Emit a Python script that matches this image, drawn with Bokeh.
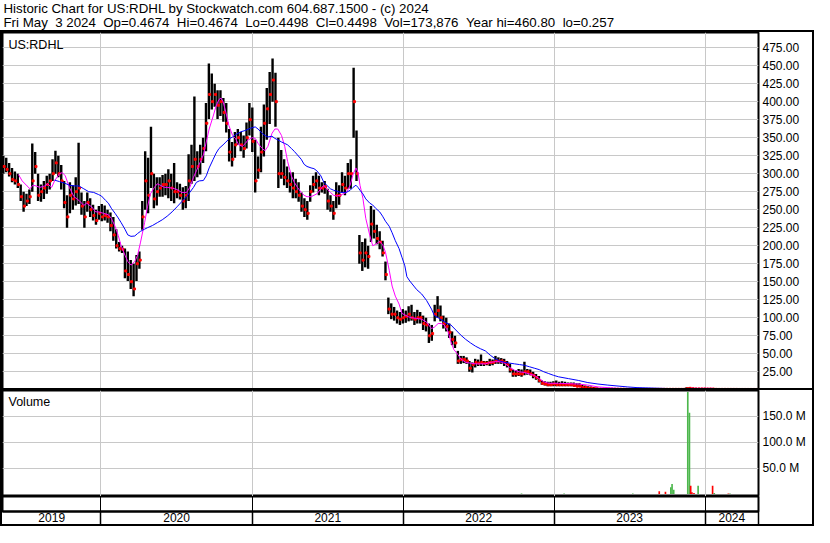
import numpy as np
import pandas as pd
from bokeh.plotting import figure
from bokeh.layouts import column
from bokeh.models import (Range1d, FixedTicker, PrintfTickFormatter, Label,
                          DatetimeTickFormatter)
from bokeh.embed import file_html
from bokeh.resources import INLINE

# ---------------- data ----------------
START = "2019-05-10"          # first weekly bar
VIEW_START = "2019-05-08"
VIEW_END = "2024-05-09"
YEAR_BOUNDS = ["2020-01-01", "2021-01-01", "2022-01-01", "2023-01-01", "2024-01-01"]

TITLE1 = "Historic Chart for US:RDHL by Stockwatch.com 604.687.1500 - (c) 2024"
TITLE2 = ("Fri May \u00a03 2024 \u00a0Op=0.4674 \u00a0Hi=0.4674 \u00a0Lo=0.4498 \u00a0Cl=0.4498"
          " \u00a0Vol=173,876 \u00a0Year hi=460.80 \u00a0lo=0.257")
SYMBOL = "US:RDHL"

# weekly high / low / close
hi = [325,322,315,308,303,300,285,275,272,278,
      342,330,300,285,290,297,300,320,332,325,
      312,290,270,288,284,295,343,274,262,274,
      266,257,250,255,258,256,250,246,240,223,
      205,200,196,192,180,175,187,192,262,331,
      322,365,300,295,295,298,300,306,300,315,
      288,286,281,283,327,340,407,331,340,350,
      398,453,439,425,416,416,405,398,362,344,
      358,362,358,353,371,398,392,347,324,365,
      396,419,441,460,440,350,333,320,310,302,
      302,293,288,274,266,262,284,297,302,297,
      288,290,279,270,262,288,284,302,297,315,
      320,447,360,215,205,210,200,255,250,229,
      220,207,178,128,120,115,110,108,112,110,
      116,118,108,111,108,103,100,92,90,118,
      130,117,103,100,92,81,75,54,47,47,
      45,40,38,43,42,49,40,40,43,42,
      47,45,44,43,40,36,28,27,29,28,
      39,29,28,25,22,19,13,12,11,11,
      12,13,11,12,11,10,10,10,9,9,
      6.5,6,5,4.5,4,3,2.5,2.5,2.2,2.0,
      1.9,1.8,1.8,1.7,1.6,1.6,1.5,1.5,1.4,1.4,
      1.3,1.3,1.2,1.3,1.2,1.2,1.3,1.2,1.2,1.3,
      1.3,1.2,1.2,1.2,1.2,1.3,3.5,3.4,2.5,2.0,
      2.0,2.0,1.9,1.9,1.8,1.8,0.9,0.8,0.8,0.8,
      0.8,0.8,0.7,0.7,0.7,0.7,0.6,0.6,0.6,0.5,0.47]
lo = [300,302,296,288,285,280,262,247,255,258,
      275,300,262,261,265,272,278,290,300,295,
      278,252,225,245,250,256,258,243,225,247,
      240,235,229,236,234,235,232,220,207,196,
      192,190,155,151,140,130,151,168,222,250,
      245,280,252,256,268,268,270,266,262,259,
      266,264,250,252,262,286,290,295,299,315,
      331,376,389,393,376,380,372,357,317,310,
      322,340,331,322,335,353,330,274,293,302,
      324,347,369,400,365,280,293,284,280,274,
      266,266,261,247,240,236,261,274,279,270,
      274,272,250,247,236,252,257,274,270,279,
      279,350,290,175,165,170,168,205,210,202,
      195,185,152,105,98,96,92,90,92,93,
      95,96,90,92,92,83,81,65,68,95,
      100,95,85,81,72,62,58,36,36,37,
      36,25,24,31,33,33,33,34,33,34,
      36,36,36,33,31,24,18,18,19,18,
      20,21,20,16,14,10,7,6,5,5,
      5,5,5,5,5,5,5,4.5,4.5,4,
      2,2,1.5,1.2,1,0.8,0.8,0.8,0.7,0.7,
      0.7,0.6,0.6,0.6,0.6,0.5,0.5,0.5,0.5,0.5,
      0.5,0.4,0.4,0.4,0.4,0.4,0.4,0.4,0.4,0.4,
      0.4,0.4,0.4,0.4,0.4,0.5,0.6,1.2,1.0,0.8,
      0.8,0.8,0.8,0.8,0.8,0.7,0.4,0.35,0.35,0.35,
      0.3,0.3,0.3,0.3,0.3,0.3,0.3,0.3,0.3,0.3,0.45]
cl = [310,306,300,292,290,285,268,255,262,268,
      290,310,270,275,280,285,290,300,315,300,
      290,260,240,270,265,275,280,255,240,260,
      250,242,235,245,240,242,240,228,215,200,
      196,195,165,160,150,140,175,180,240,290,
      270,300,265,275,280,285,285,290,280,275,
      275,270,262,270,290,310,320,310,320,335,
      370,410,400,410,395,400,385,370,330,320,
      340,350,340,335,350,375,345,290,305,330,
      370,390,410,430,400,300,300,295,290,285,
      280,275,270,255,250,245,275,285,290,280,
      280,282,262,255,245,270,270,285,280,300,
      300,400,300,190,180,190,185,230,220,210,
      205,190,160,112,105,105,100,98,100,102,
      105,100,98,100,100,92,90,75,78,105,
      110,100,92,88,80,70,65,40,42,42,
      40,30,35,38,37,38,37,37,38,38,
      40,40,40,38,35,28,22,22,22,22,
      25,25,22,20,17,13,9,8,7,7,
      8,7,7,7,7,7,7,6,5,5,
      3,3,2,2,1.5,1.2,1.0,1.0,0.9,0.9,
      0.9,0.8,0.8,0.8,0.8,0.7,0.7,0.7,0.7,0.7,
      0.7,0.6,0.6,0.6,0.6,0.6,0.6,0.6,0.6,0.6,
      0.6,0.6,0.6,0.6,0.6,0.7,1.5,2.0,1.5,1.2,
      1.2,1.2,1.2,1.1,1.1,1.0,0.6,0.5,0.5,0.5,
      0.5,0.5,0.5,0.5,0.45,0.45,0.45,0.45,0.45,0.45,0.45]

# fast moving average (magenta): weeks after START, value
fast_wk = [5.2,6.5,8.2,9.2,10.2,11.3,12.6,14.3,15.3,16.7,
           17.7,19.4,20.4,21.4,22.8,24.4,26.1,27.8,28.8,30.5,
           31.9,32.9,34.6,36.3,37.3,38.6,39.7,40.7,42,43,
           44.1,45.4,46.4,47.4,48.8,49.8,50.8,52.2,53.2,54.2,
           55.6,56.6,58.3,60,61.6,63.3,64.4,65.7,66.7,67.7,
           69.1,70.1,71.1,72.5,73.5,74.5,75.2,75.9,76.9,77.9,
           79.2,80.2,81.3,82.6,83.6,84.6,86,87,88,89.4,
           90.4,91.4,92.8,93.8,94.8,96.1,97.2,98.2,99.5,100.5,
           101.6,102.9,103.9,104.9,106.3,107.3,108.3,109.7,110.7,111.7,
           113,114.1,115.1,116.4,117.4,118.5,119.8,120.8,121.8,122.5,
           123.2,124.2,125.2,126.6,127.6,128.6,130,131,132,133.3,
           134.3,135.4,136.7,137.7,138.7,140.1,141.1,142.8,144.5,146.2,
           147.9,148.9,150.2,151.3,152.3,153.6,154.6,155.6,157,158,
           159.7,161.4,163.1,164.8,166.5,168.2,169.9,171.5,173.2,174.9,
           176.6,178.3,180,181.7,183.4,185.1,186.7,188.4,191.8,198.6,
           201.9,205.4,212.1,218.9,235.8,237.5,245,246,260]
fast_val = [299,290,283,279,284,283,281,283,286,281,
            290,300,301.5,297,281,268,263,256,259,254,
            247,247,245,243,238,227,214,200,187,178,
            173,178,187,205,232,254,272,281,286,284,
            281,281,280,278,274,274,281,295,304,313,
            326,344,362,380,394,403,405,400,385,367,
            353,349,340,338,342,347,350,349,342,335,
            332,338,356,362,362,353,338,317,297,288,
            281,274,270,268,268,270,272,279,284,279,
            274,270,269,270,272,274,284,299,308,302,
            284,266,238,214,200,202,206,202,191,166,
            144,130,119,106,104,101,100,99,98,94,
            85,87,92,92,90,81,67,56,49,43,
            38,37,36,36,36,38,39,39,37,31,
            27,25,24,22,20,15.5,11,9,9,8,
            6.5,4,2,1.2,1.0,2.0,2.0,0.8,0.5]

# slow moving average (blue)
slow_wk = [17.7,19.4,21.1,22.8,24.4,26.1,27.8,29.5,31.2,32.9,
           33.9,35.3,36.3,37.3,38.6,39.7,40.7,42,43,44.1,
           45.4,46.4,47.4,48.8,49.8,51.5,53.2,54.9,56.6,58.3,
           60,61.6,63.3,64.4,65.7,66.7,67.7,69.1,70.1,71.1,
           72.5,73.5,74.5,75.9,76.9,77.9,79.2,80.2,81.9,83.6,
           85.3,87,88,89.4,90.4,91.4,92.8,93.8,94.8,96.1,
           97.2,98.2,99.5,100.5,101.6,102.9,103.9,104.9,106.3,107.3,
           108.3,109.7,110.7,111.7,113,114.1,115.1,116.4,118.5,119.8,
           120.8,121.8,122.5,123.2,124.2,125.2,126.6,127.6,128.6,130,
           131,132,133.3,134.3,135.4,136.7,137.7,138.7,139.4,140.4,
           141.8,142.8,144.5,146.2,147.9,148.9,150.2,151.3,152.9,154.6,
           156.3,158,159.7,161.4,163.1,164.8,166.5,168.2,169.9,171.5,
           173.2,174.9,176.6,178.3,180,181.7,183.4,185.1,186.7,188.4,
           190.1,191.8,195.2,198.6,201.9,205.4,208.8,215.5,218.9,229.1,
           235.8,260]
slow_val = [291,289,287,284,283,283,279,275,274,271,
            269,263,259,252,245,238.5,232,223,215,213,
            213.5,217,220,223,225,228,232,236,241,247,
            254,261,268,274,281,288,290,290.5,297,308,
            320,328.5,335,340,344,348,351,354,358,360,
            363,365,362,356,353,351,352,349,347,344,
            342,340,335,331,326,320,313,310,308,307,
            304,297,288,284,279,277,276,274,274,277,
            281,284,281,277,272,265,259,256.5,252,247,
            241,234,227,218,207,196,184,172,157,151,
            144,139,133,124,112,103,100,97,93,90,
            83,76,70,65,60.5,57,54,48,43,40,
            38,37,36,35,34,32,30,28,25,22.5,
            20,18,15.5,13,10,8,6.5,4,3,1.8,
            1.2,1.0]

# visible daily volume bars (millions of shares), 1 = up day (green), 0 = down (red)
vol_dates = ["2022-10-14","2023-01-25","2023-07-10","2023-09-12","2023-09-27",
             "2023-10-10","2023-10-13","2023-10-17","2023-11-20","2023-11-24",
             "2023-11-27","2023-11-30","2023-12-05","2023-12-15","2024-01-19",
             "2024-01-23","2024-02-26","2024-03-01"]
vol_m = [0.8,0.7,1.0,5,4,13,19,8,197,157,16,3,2,16,16,2,1,1]
vol_up = [1,1,1,0,0,1,1,1,1,1,0,0,0,1,0,1,0,1]

price_ticks = [25,50,75,100,125,150,175,200,225,250,275,300,325,350,375,400,425,450,475]
vol_ticks = [50,100,150]

# ---------------- derived ----------------
t0 = pd.Timestamp(START)
weeks = pd.date_range(START, periods=len(hi), freq="7D")
close_x = weeks + pd.Timedelta(days=2)
fast_x = t0 + pd.to_timedelta(np.array(fast_wk) * 7, unit="D")
slow_x = t0 + pd.to_timedelta(np.array(slow_wk) * 7, unit="D")
vol_x = pd.to_datetime(vol_dates)
vol_col = ["#4cb74c" if u else "#ff0000" for u in vol_up]


def ms(d):
    return pd.Timestamp(d).value / 1e6


bound_ms = [ms(d) for d in YEAR_BOUNDS]
edges = [ms(VIEW_START)] + bound_ms + [ms(VIEW_END)]
mid_ms = [(a + b) / 2 for a, b in zip(edges[:-1], edges[1:])]

FONT = "Liberation Sans"
FW, RB = 756, 54
PH, VH, YH = 356, 106, 15
GRID = "#c8c8c8"

xr = Range1d(start=pd.Timestamp(VIEW_START), end=pd.Timestamp(VIEW_END))


def panel(h, yrange, ticks, fmt):
    p = figure(frame_width=FW, frame_height=h, x_range=xr, y_range=yrange,
               x_axis_type="datetime", x_axis_location=None, y_axis_location="right",
               output_backend="svg", toolbar_location=None,
               min_border_left=0, min_border_right=RB, min_border_top=0, min_border_bottom=0)
    p.background_fill_color = "white"
    p.border_fill_color = "white"
    p.outline_line_color = "black"
    p.outline_line_width = 2
    p.xgrid.ticker = FixedTicker(ticks=bound_ms)
    ax = p.yaxis[0]
    ax.ticker = FixedTicker(ticks=ticks)
    ax.formatter = PrintfTickFormatter(format=fmt)
    ax.axis_line_color = None
    ax.major_tick_out = 0
    ax.major_tick_in = 0
    ax.minor_tick_out = 0
    ax.major_label_standoff = 4
    ax.major_label_text_font = FONT
    ax.major_label_text_font_size = "12px"
    ax.major_label_text_color = "black"
    p.grid.grid_line_color = GRID
    p.grid.grid_line_width = 1
    return p


# price panel
pf = panel(PH, Range1d(-1, 496), price_ticks, "%.2f")
pf.segment(x0=weeks, y0=lo, x1=weeks, y1=hi, line_color="black", line_width=2.4)
pf.scatter(x=close_x, y=cl, marker="square", size=2, color="#ff0000")
pf.line(x=fast_x, y=fast_val, line_color="#ff00ff", line_width=1)
pf.line(x=slow_x, y=slow_val, line_color="#0000ff", line_width=1)
pf.add_layout(Label(x=6, y=PH - 3, x_units="screen", y_units="screen", text=SYMBOL,
                    text_baseline="top", text_font=FONT, text_font_size="12.5px",
                    text_color="black"))
pf.styles = {"border-bottom": "2px solid black"}

# volume panel
vf = panel(VH, Range1d(-5, 200), vol_ticks, "%.1f M")
vf.vbar(x=vol_x, top=vol_m, bottom=0, width=pd.Timedelta(days=4).total_seconds() * 1000,
        fill_color=vol_col, line_color=None)
vf.add_layout(Label(x=6, y=VH - 4, x_units="screen", y_units="screen", text="Volume",
                    text_baseline="top", text_font=FONT, text_font_size="12.5px",
                    text_color="black"))

# year row (blank row = frame, year labels = axis below it)
yf = figure(frame_width=FW, frame_height=YH, x_range=xr, y_range=Range1d(0, 1),
            x_axis_type="datetime", y_axis_location=None,
            output_backend="svg", toolbar_location=None,
            min_border_left=0, min_border_right=RB, min_border_top=0, min_border_bottom=0)
yf.background_fill_color = "white"
yf.border_fill_color = "white"
yf.outline_line_color = "black"
yf.outline_line_width = 2
yf.ygrid.ticker = FixedTicker(ticks=[0])
yf.ygrid.grid_line_color = "black"
yf.ygrid.grid_line_width = 2
yf.xgrid.ticker = FixedTicker(ticks=bound_ms)
yf.xgrid.grid_line_color = "black"
xa = yf.xaxis[0]
xa.ticker = FixedTicker(ticks=mid_ms, minor_ticks=bound_ms + [ms(VIEW_END)])
xa.formatter = DatetimeTickFormatter(years="%Y", months="%Y", days="%Y", hours="%Y",
                                     hourmin="%Y", minutes="%Y", minsec="%Y", seconds="%Y",
                                     milliseconds="%Y", microseconds="%Y")
xa.major_tick_out = 0
xa.major_tick_in = 0
xa.minor_tick_in = 0
xa.minor_tick_out = 17
xa.minor_tick_line_color = "black"
xa.minor_tick_line_width = 1.5
xa.axis_line_color = "black"
xa.axis_line_width = 2
xa.major_label_standoff = -16
xa.major_label_text_font = FONT
xa.major_label_text_font_size = "12px"
xa.major_label_text_color = "black"

# header
hf = figure(width=FW + RB + 4, height=30, x_range=Range1d(0, 1), y_range=Range1d(0, 1),
            x_axis_location=None, y_axis_location=None, output_backend="svg",
            toolbar_location=None, min_border=0)
hf.outline_line_color = None
hf.grid.visible = False
hf.background_fill_color = "white"
hf.add_layout(Label(x=3, y=30, x_units="screen", y_units="screen", text=TITLE1,
                    text_baseline="top", text_font=FONT, text_font_size="13.3px",
                    text_color="black"))
hf.add_layout(Label(x=3, y=16, x_units="screen", y_units="screen", text=TITLE2,
                    text_baseline="top", text_font=FONT, text_font_size="13.3px",
                    text_color="black"))

box = column(pf, vf, yf, styles={"border": "2px solid black"})
page = column(hf, box)

open("out.html", "w").write(file_html(page, INLINE))
